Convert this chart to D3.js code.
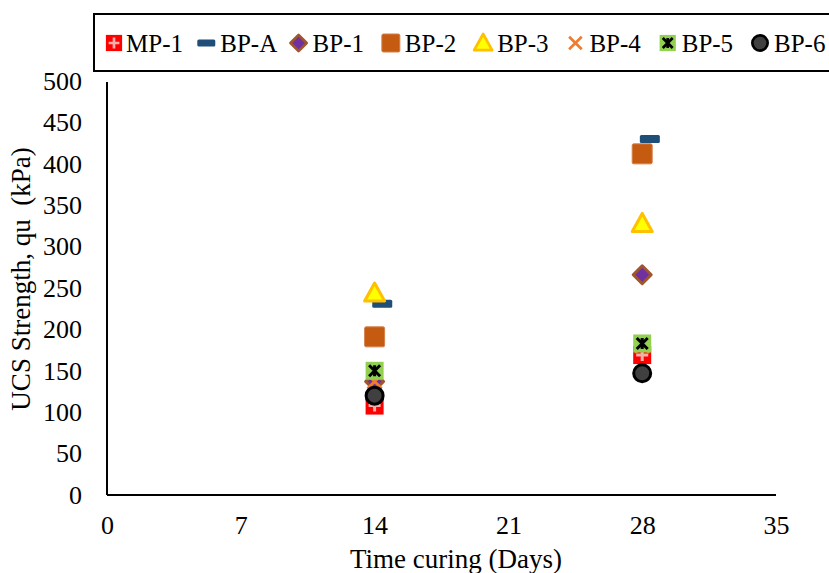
<!DOCTYPE html>
<html>
<head>
  <script src="https://d3js.org/d3.v7.min.js"></script>
  <style>
    body { margin: 0; background: #fff; }
    svg { font-family: "Liberation Serif", "Times New Roman", serif; }
    .axis path { stroke: #000; stroke-width: 2px; }
    .axis line { display: none; }
  </style>
</head>
<body>
  <script>
    // curing time (days) and UCS strength (kPa) per mix
    var series = ["MP-1", "BP-A", "BP-1", "BP-2", "BP-3", "BP-4", "BP-5", "BP-6"];
    var days = [14, 28];
    var daysBPA = [14.4, 28.4];
    var mp1 = [108, 169];
    var bpA = [231, 430];
    var bp1 = [137, 266];
    var bp2 = [191, 412];
    var bp3 = [244, 328];
    var bp4 = [137, 180];
    var bp5 = [150, 183];
    var bp6 = [120, 147];
    var xTicks = [0, 7, 14, 21, 28, 35];
    var yTicks = [0, 50, 100, 150, 200, 250, 300, 350, 400, 450, 500];

    var values = [mp1, bpA, bp1, bp2, bp3, bp4, bp5, bp6];

    var width = 829;
    var height = 573;
    var svg = d3.select("body").append("svg")
        .attr("width", width)
        .attr("height", height);

    var x = d3.scaleLinear()
        .range([107, 776])
        .domain([0, 35]);
    var y = d3.scaleLinear()
        .range([495, 81])
        .domain([0, 500]);

    // marker drawing, s = scale factor
    function marker(g, name, s) {
      if (name == "MP-1") {
        g.append("rect").attr("x", -9 * s).attr("y", -9 * s).attr("width", 18 * s).attr("height", 18 * s)
            .attr("fill", "#ff0000");
        g.append("path").attr("d", "M0," + (-6 * s) + "V" + (6 * s) + "M" + (-6 * s) + ",0H" + (6 * s))
            .attr("stroke", "#f4b0a8").attr("stroke-width", 3 * s);
      } else if (name == "BP-A") {
        g.append("rect").attr("x", -10 * s).attr("y", -4 * s).attr("width", 20 * s).attr("height", 8 * s)
            .attr("rx", 1.5).attr("fill", "#1f4e79");
      } else if (name == "BP-1") {
        var d = 9 * s;
        g.append("path").attr("d", "M0," + (-d) + "L" + d + ",0L0," + d + "L" + (-d) + ",0Z")
            .attr("fill", "#7030a0").attr("stroke", "#a0562d").attr("stroke-width", 3 * s)
            .attr("stroke-linejoin", "round");
      } else if (name == "BP-2") {
        g.append("rect").attr("x", -10 * s).attr("y", -10 * s).attr("width", 20 * s).attr("height", 20 * s)
            .attr("rx", 1.5).attr("fill", "#c55a11").attr("stroke", "#d4804a").attr("stroke-width", 1);
      } else if (name == "BP-3") {
        var t = 10 * s;
        g.append("path").attr("d", "M0," + (-t) + "L" + t + "," + (t * 0.8) + "L" + (-t) + "," + (t * 0.8) + "Z")
            .attr("fill", "#ffff00").attr("stroke", "#ffc000").attr("stroke-width", 3 * s)
            .attr("stroke-linejoin", "round");
      } else if (name == "BP-4") {
        var c = 7 * s;
        g.append("path").attr("d", "M" + (-c) + "," + (-c) + "L" + c + "," + c + "M" + c + "," + (-c) + "L" + (-c) + "," + c)
            .attr("stroke", "#ed7d31").attr("stroke-width", 3 * s);
      } else if (name == "BP-5") {
        g.append("rect").attr("x", -9 * s).attr("y", -9 * s).attr("width", 18 * s).attr("height", 18 * s)
            .attr("fill", "#92d050");
        var k = 5.5 * s;
        g.append("path").attr("d", "M" + (-k) + "," + (-k) + "L" + k + "," + k + "M" + k + "," + (-k) + "L" + (-k) + "," + k +
            "M0," + (-k) + "V" + k)
            .attr("stroke", "#000").attr("stroke-width", 3 * s);
      } else if (name == "BP-6") {
        g.append("circle").attr("r", 8.5 * s)
            .attr("fill", "#404040").attr("stroke", "#000").attr("stroke-width", 3 * s);
      }
    }

    // Define Axes
    var xAxis = d3.axisBottom()
        .scale(x)
        .tickValues(xTicks)
        .tickSize(0)
        .tickPadding(21);

    var yAxis = d3.axisLeft()
        .scale(y)
        .tickValues(yTicks)
        .tickSize(0)
        .tickPadding(25);

    function serifTicks(g) {
      g.selectAll("text")
          .style("font-family", "'Liberation Serif', 'Times New Roman', serif")
          .style("font-size", "26px")
          .style("fill", "#000");
    }

    // Draw the Axes
    svg.append("g")
        .attr("class", "x axis")
        .attr("transform", "translate(0,495)")
        .call(xAxis)
        .call(serifTicks)
        .call(function(g) { g.select(".domain").attr("d", "M107,0H776"); });
    svg.append("g")
        .attr("class", "y axis")
        .attr("transform", "translate(107,0)")
        .call(yAxis)
        .call(serifTicks)
        .call(function(g) { g.select(".domain").attr("d", "M0,82V495"); });

    // points
    series.forEach(function(name, i) {
      var xs = name == "BP-A" ? daysBPA : days;
      svg.append("g").selectAll("g")
          .data(values[i])
        .enter()
          .append("g")
          .attr("transform", function(d, j) { return "translate(" + x(xs[j]) + "," + y(d) + ")"; })
          .each(function() { marker(d3.select(this), name, 1); });
    });

    // axis titles
    svg.append("text")
        .attr("x", 456)
        .attr("y", 568)
        .attr("text-anchor", "middle")
        .style("font-size", "27px")
        .text("Time curing (Days)");
    svg.append("text")
        .attr("transform", "translate(30,279) rotate(-90)")
        .attr("text-anchor", "middle")
        .style("font-size", "27px")
        .style("white-space", "pre")
        .attr("xml:space", "preserve")
        .text("UCS Strength, qu  (kPa)");

    // legend
    svg.append("rect")
        .attr("x", 94)
        .attr("y", 14)
        .attr("width", 760)
        .attr("height", 57)
        .attr("fill", "none")
        .attr("stroke", "#000")
        .attr("stroke-width", 2);

    var legendX = d3.scalePoint()
        .domain(series)
        .range([114, 760]);

    var item = svg.selectAll(".legend-item")
        .data(series)
      .enter()
        .append("g")
        .attr("class", "legend-item")
        .attr("transform", function(d) { return "translate(" + legendX(d) + ",43)"; });
    item.each(function(d) { marker(d3.select(this), d, 0.9); });
    item.append("text")
        .attr("x", function(d) { return d == "MP-1" ? 12 : 14; })
        .attr("y", 9)
        .style("font-size", "25px")
        .text(function(d) { return d; });
  </script>
</body>
</html>
